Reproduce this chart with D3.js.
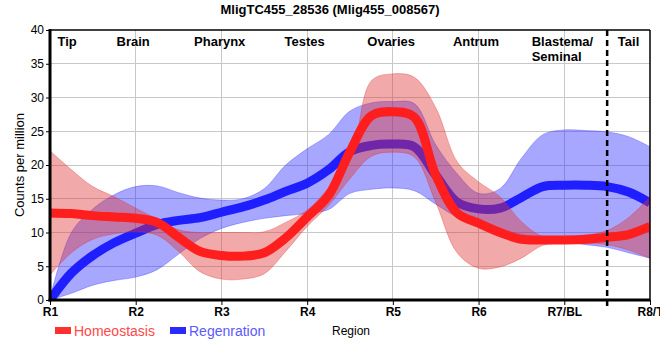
<!DOCTYPE html>
<html>
<head>
<meta charset="utf-8">
<script src="https://cdn.jsdelivr.net/npm/d3@7"></script>
<style>
  html, body { margin: 0; padding: 0; background: #fff; }
  svg { display: block; font-family: "Liberation Sans", Arial, sans-serif; }
</style>
</head>
<body>
<svg id="chart" width="660" height="360"></svg>
<script>
// ---- data ----
const title = "MligTC455_28536 (Mlig455_008567)";
const regionTicks = [1, 2, 3, 4, 5, 6, 7, 8];
const regionTickLabels = ["R1", "R2", "R3", "R4", "R5", "R6", "R7/BL", "R8/T"];
const tissueLabels = ["Tip", "Brain", "Pharynx", "Testes", "Ovaries", "Antrum", "Blastema/|Seminal", "Tail"];
const tissuePos = [1.2, 1.97, 2.98, 3.97, 4.98, 5.97, 6.97, 7.75];
const yTicks = [0, 5, 10, 15, 20, 25, 30, 35, 40];
const dividerAt = 7.5;

const steps = [1, 1.25, 1.5, 1.75, 2, 2.25, 2.5, 2.75, 3, 3.25, 3.5, 3.75, 4, 4.25, 4.5,
               4.75, 5, 5.25, 5.5, 5.75, 6, 6.25, 6.5, 6.75, 7, 7.25, 7.5, 7.75, 8];

const homeoMean = [12.9, 12.8, 12.5, 12.3, 12.1, 11.5, 9.3, 7.2, 6.6, 6.5, 7.0, 9.2, 12.3, 15.5, 22.0,
                   27.3, 27.9, 27.1, 18.5, 12.9, 11.4, 10.0, 9.0, 8.9, 8.9, 9.0, 9.3, 9.7, 10.9];
const homeoHigh = [22.1, 19.3, 16.8, 15.3, 13.6, 12.0, 10.4, 10.0, 10.0, 10.0, 10.1, 11.5, 13.3, 16.6, 20.5,
                   32.5, 33.5, 33.0, 28.5, 20.5, 17.5, 15.3, 11.6, 9.4, 9.3, 9.6, 10.3, 12.2, 15.3];
const homeoLow  = [3.7, 7.0, 9.0, 9.8, 10.1, 9.6, 7.2, 4.2, 3.1, 3.1, 3.9, 7.2, 10.9, 14.0, 18.0,
                   21.3, 21.9, 21.2, 14.5, 7.0, 4.7, 4.9, 6.2, 8.1, 8.4, 8.4, 8.2, 7.4, 6.2];

const regenMean = [0.0, 4.0, 6.6, 8.5, 9.9, 11.2, 11.8, 12.2, 13.0, 13.8, 14.8, 16.1, 17.3, 19.3, 22.0,
                   22.9, 23.1, 22.7, 18.5, 14.5, 13.5, 13.6, 15.2, 16.8, 17.0, 17.0, 16.8, 16.0, 14.4];
const regenHigh = [0.3, 10.0, 13.5, 15.6, 16.8, 16.9, 15.9, 15.1, 14.8, 15.0, 16.5, 20.0, 22.4, 24.5, 28.0,
                   29.2, 29.4, 29.1, 23.0, 18.7, 15.8, 16.5, 21.0, 24.5, 25.2, 25.1, 24.9, 24.2, 22.7];
const regenLow  = [0.0, 1.0, 2.2, 2.9, 3.4, 4.5, 6.8, 9.1, 10.6, 11.5, 12.1, 12.5, 12.8, 13.4, 15.8,
                   16.4, 16.6, 16.2, 14.2, 12.3, 11.2, 10.4, 9.7, 9.1, 8.6, 8.2, 7.8, 7.0, 6.2];

const seriesNames = ["Homeostasis", "Regenration"];

// ---- layout ----
const svg = d3.select("#chart");
const m = { left: 50, right: 10, top: 30, bottom: 60 };
const W = 660, H = 360;
const x = d3.scaleLinear().domain([1, 8]).range([m.left, W - m.right]);
const y = d3.scaleLinear().domain([0, 40]).range([H - m.bottom, m.top]);

const defs = svg.append("defs");
defs.append("clipPath").attr("id", "plotclip")
  .append("rect").attr("x", x(1)).attr("y", y(40)).attr("width", x(8) - x(1)).attr("height", y(0) - y(40));

// title
svg.append("text").attr("x", 330).attr("y", 14).attr("text-anchor", "middle")
  .attr("font-size", 13).attr("font-weight", "bold").text(title);

// grid
const grid = svg.append("g");
grid.selectAll("line.h").data(yTicks.slice(1, -1)).join("line")
  .attr("x1", x(1)).attr("x2", x(8)).attr("y1", d => y(d)).attr("y2", d => y(d))
  .attr("stroke", "#c8c8c8").attr("stroke-width", 1).attr("shape-rendering", "crispEdges");
grid.selectAll("line.v").data(regionTicks.slice(1, -1)).join("line")
  .attr("x1", d => x(d)).attr("x2", d => x(d)).attr("y1", y(0)).attr("y2", y(40))
  .attr("stroke", "#c8c8c8").attr("stroke-width", 1).attr("shape-rendering", "crispEdges");

// marks
const idx = d3.range(steps.length);
const plot = svg.append("g").attr("clip-path", "url(#plotclip)");
const curve = d3.curveCatmullRom.alpha(0.5);
const band = (lo, hi) => d3.area().x(i => x(steps[i])).y0(i => y(lo[i])).y1(i => y(hi[i])).curve(curve);
const line = (v) => d3.line().x(i => x(steps[i])).y(i => y(v[i])).curve(curve);

plot.append("path").datum(idx).attr("d", band(regenLow, regenHigh))
  .attr("fill", "#2424ff").attr("fill-opacity", 0.4)
  .attr("stroke", "#3030ff").attr("stroke-opacity", 0.35).attr("stroke-width", 1);
plot.append("path").datum(idx).attr("d", line(regenMean))
  .attr("fill", "none").attr("stroke", "#1e1eff").attr("stroke-width", 9);
plot.append("path").datum(idx).attr("d", band(homeoLow, homeoHigh))
  .attr("fill", "#e03232").attr("fill-opacity", 0.42)
  .attr("stroke", "#e03030").attr("stroke-opacity", 0.35).attr("stroke-width", 1);
plot.append("path").datum(idx).attr("d", line(homeoMean))
  .attr("fill", "none").attr("stroke", "#ff1e1e").attr("stroke-width", 9);

// borders
svg.append("line").attr("x1", x(1)).attr("x2", x(8)).attr("y1", y(40)).attr("y2", y(40))
  .attr("stroke", "#000").attr("stroke-width", 1.5);
svg.append("line").attr("x1", x(8)).attr("x2", x(8)).attr("y1", y(40)).attr("y2", y(0))
  .attr("stroke", "#000").attr("stroke-width", 1.5);

// divider
svg.append("line").attr("x1", x(dividerAt)).attr("x2", x(dividerAt)).attr("y1", y(40)).attr("y2", y(0) + 6)
  .attr("stroke", "#000").attr("stroke-width", 2.5).attr("stroke-dasharray", "6,4");

// axes
const yAxis = svg.append("g").attr("transform", `translate(${x(1)},0)`)
  .call(d3.axisLeft(y).tickValues(yTicks).tickSize(4).tickPadding(2));
yAxis.select(".domain").attr("stroke-width", 3).attr("d", `M0,${y(0)+1.5}V${y(40)-1}`);
yAxis.selectAll("text").attr("font-size", 12).attr("font-family", "Liberation Sans, Arial, sans-serif").attr("fill", "#000");

const xAxis = svg.append("g").attr("transform", `translate(0,${y(0)})`)
  .call(d3.axisBottom(x).tickValues(regionTicks).tickFormat((d, i) => regionTickLabels[i]).tickSize(5).tickPadding(2));
xAxis.select(".domain").attr("stroke-width", 3).attr("d", `M${x(1)-1.5},0H${x(8)}`);
xAxis.selectAll("text").attr("font-size", 12).attr("font-weight", "bold")
  .attr("font-family", "Liberation Sans, Arial, sans-serif").attr("fill", "#000");

// tissue labels
const tl = svg.append("g").attr("font-size", 13).attr("font-weight", "bold");
tissueLabels.forEach((t, i) => {
  const parts = t.split("|");
  const txt = tl.append("text").attr("x", x(tissuePos[i])).attr("y", 46)
    .attr("text-anchor", parts.length > 1 ? "start" : "middle");
  if (parts.length > 1) txt.attr("x", x(tissuePos[i]) - 30);
  parts.forEach((p, j) => txt.append("tspan").attr("x", txt.attr("x")).attr("dy", j === 0 ? 0 : 15).text(p));
});

// axis titles
svg.append("text").attr("transform", `translate(24,${(y(0) + y(40)) / 2}) rotate(-90)`)
  .attr("text-anchor", "middle").attr("font-size", 13).text("Counts per million");
svg.append("text").attr("x", 332).attr("y", 335).attr("font-size", 12).text("Region");

// legend
const legColors = ["#ff3030", "#2a2aff"];
const legText = ["#ff4848", "#5a5aff"];
const legX = [55, 170];
seriesNames.forEach((s, i) => {
  svg.append("rect").attr("x", legX[i]).attr("y", 327).attr("width", 16).attr("height", 7).attr("fill", legColors[i]);
  svg.append("text").attr("x", legX[i] + 19).attr("y", 335.5).attr("font-size", 14)
    .attr("fill", legText[i]).text(s);
});
</script>
</body>
</html>
